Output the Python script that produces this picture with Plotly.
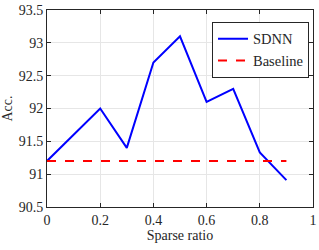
import plotly.graph_objects as go

sparse_ratio = [0, 0.2, 0.3, 0.4, 0.5, 0.6, 0.7, 0.8, 0.9]
sdnn_acc = [91.2, 92.0, 91.4, 92.7, 93.1, 92.1, 92.3, 91.33, 90.91]
baseline_x = [0, 0.9]
baseline_acc = [91.2, 91.2]

x_ticks = [0, 0.2, 0.4, 0.6, 0.8, 1]
x_tick_labels = ["0", "0.2", "0.4", "0.6", "0.8", "1"]
y_ticks = [90.5, 91, 91.5, 92, 92.5, 93, 93.5]
y_tick_labels = ["90.5", "91", "91.5", "92", "92.5", "93", "93.5"]

font_family = "'Liberation Serif', 'Times New Roman', serif"

fig = go.Figure()
fig.add_trace(go.Scatter(x=sparse_ratio, y=sdnn_acc, mode="lines", name="SDNN",
                         line=dict(color="#0000ff", width=2)))
fig.add_trace(go.Scatter(x=baseline_x, y=baseline_acc, mode="lines", name="Baseline",
                         line=dict(color="#ff0000", width=2, dash="dash")))

axis_common = dict(showline=True, linecolor="#262626", linewidth=1, mirror="ticks",
                   ticks="inside", ticklen=4, tickcolor="#262626", automargin=False,
                   showgrid=True, gridcolor="#e6e6e6", gridwidth=1, zeroline=False,
                   tickfont=dict(family=font_family, size=14, color="#262626"))

fig.update_xaxes(range=[0, 1], tickvals=x_ticks, ticktext=x_tick_labels,
                 title=dict(text="Sparse ratio", font=dict(family=font_family, size=14, color="#262626"), standoff=2),
                 **axis_common)
fig.update_yaxes(range=[90.5, 93.5], tickvals=y_ticks, ticktext=y_tick_labels,
                 title=dict(text="Acc.", font=dict(family=font_family, size=14, color="#262626"), standoff=4),
                 **axis_common)

fig.update_layout(width=319, height=250, margin=dict(l=47, r=6, t=10, b=43),
                  plot_bgcolor="white", paper_bgcolor="white",
                  font=dict(family=font_family, size=14, color="#262626"),
                  legend=dict(x=0.985, y=0.94, xanchor="right", yanchor="top",
                              bgcolor="white", bordercolor="#262626", borderwidth=1,
                              font=dict(family=font_family, size=14.5, color="#262626"),
                              tracegroupgap=0, itemwidth=30))

fig.write_html("out.html", config={"displayModeBar": False},
               post_script="document.body.style.margin='0';")
